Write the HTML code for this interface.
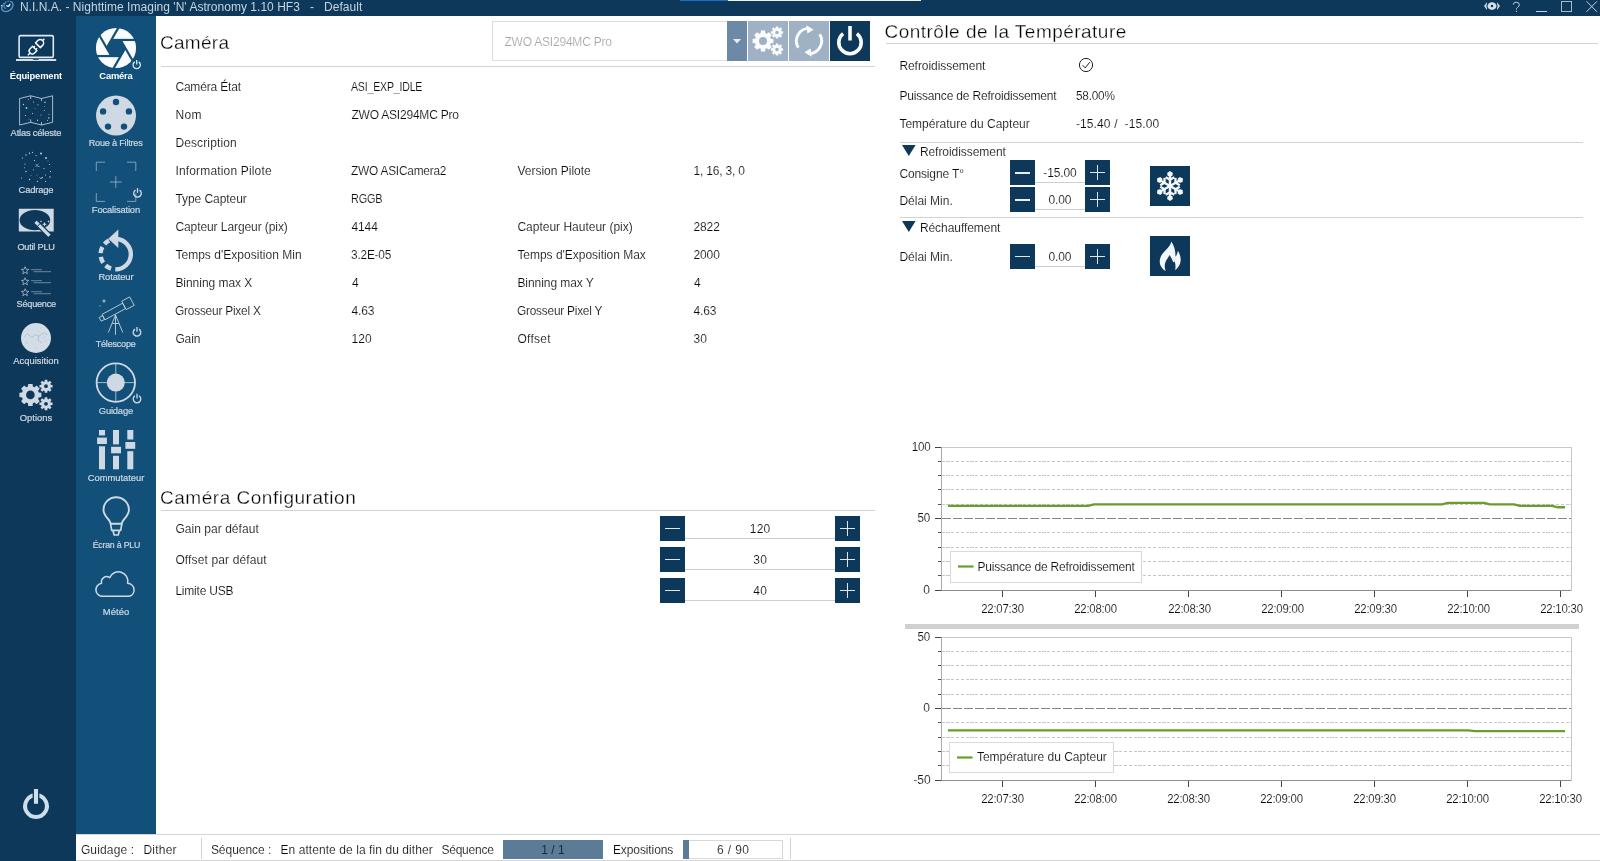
<!DOCTYPE html>
<html><head><meta charset="utf-8"><title>N.I.N.A.</title>
<style>
*{box-sizing:border-box;margin:0;padding:0}
html,body{width:1600px;height:861px;overflow:hidden;background:#fff;font-family:"Liberation Sans",sans-serif;}
#app{will-change:transform;position:relative;width:1600px;height:861px;overflow:hidden;background:#fff;color:#000}
.abs{position:absolute}
.t{position:absolute;white-space:pre;line-height:16px;height:16px;font-size:11.5px;color:#0c0c0c;-webkit-text-stroke:0.14px #fff}
#titlebar{left:0;top:0;width:1600px;height:16px;background:#0d3859}
#side1{left:0;top:16px;width:76px;height:845px;background:#0d3859}
#side2{left:76px;top:16px;width:80px;height:818px;background:#125079}
#status{left:76px;top:834px;width:1524px;height:27px;background:#fff;border-top:1px solid #d4d4d4;border-bottom:1px solid #d4d4d4}
.hl{position:absolute;height:1px;background:#d2d2d2}
.vl{position:absolute;width:1px;background:#d2d2d2}
.btn{position:absolute;background:#0d3859}
.btn i{position:absolute;background:#dfe7ee}
.ul{position:absolute;height:1px;background:#cfcfcf}
svg{position:absolute;overflow:visible}
</style></head><body><div id="app">
<div id="titlebar" class="abs"></div>
<div class="abs" style="left:680px;top:0;width:48px;height:1px;background:#1a6fc4"></div>
<div class="abs" style="left:728px;top:0;width:193px;height:1px;background:#eef2f6"></div>
<div id="side1" class="abs"></div>
<div id="side2" class="abs"></div>
<div id="status" class="abs"></div>
<!-- heading lines -->
<div class="hl" style="left:161px;top:66px;width:714px"></div>
<div class="hl" style="left:886px;top:43px;width:712px"></div>
<div class="hl" style="left:161px;top:510px;width:714px"></div>
<div class="hl" style="left:900px;top:142px;width:683px"></div>
<div class="hl" style="left:900px;top:217px;width:683px"></div>
<!-- combobox -->
<div class="abs" style="left:492px;top:21px;width:236px;height:40px;border:1px solid #dddddd;background:#fff"></div>
<div class="abs" style="left:727px;top:21px;width:20px;height:40px;background:#6c8aa6"></div>
<svg style="left:733px;top:39px" width="8" height="5" viewBox="0 0 8 5"><path d="M0 0H8L4 4.5Z" fill="#e6edf3"/></svg>
<div class="abs" style="left:748px;top:21px;width:40px;height:40px;background:#9fb2c5"></div>
<div class="abs" style="left:789px;top:21px;width:40px;height:40px;background:#9fb2c5"></div>
<div class="abs" style="left:830px;top:21px;width:40px;height:40px;background:#0d3859"></div>
<!-- status bar parts -->
<div class="vl" style="left:201px;top:838px;height:21px"></div>
<div class="vl" style="left:790px;top:838px;height:21px"></div>
<div class="abs" style="left:503px;top:840px;width:100px;height:19px;background:#5b7b97"></div>
<div class="abs" style="left:683px;top:840px;width:100px;height:19px;background:#fff;border:1px solid #d8d8d8"></div>
<div class="abs" style="left:683px;top:840px;width:6px;height:19px;background:#5b7b97"></div>
<!-- splitter -->
<div class="abs" style="left:905px;top:624px;width:674px;height:5px;background:#d0d0d0"></div>

<!-- stepper buttons: camera config -->
<div class="btn" style="left:660px;top:516px;width:25px;height:25px"><i style="left:5px;top:12px;width:15px;height:1px"></i></div>
<div class="btn" style="left:835px;top:516px;width:25px;height:25px"><i style="left:5px;top:12px;width:15px;height:1px"></i><i style="left:12px;top:5px;width:1px;height:15px"></i></div>
<div class="ul" style="left:685px;top:538px;width:150px"></div>
<div class="btn" style="left:660px;top:547px;width:25px;height:25px"><i style="left:5px;top:12px;width:15px;height:1px"></i></div>
<div class="btn" style="left:835px;top:547px;width:25px;height:25px"><i style="left:5px;top:12px;width:15px;height:1px"></i><i style="left:12px;top:5px;width:1px;height:15px"></i></div>
<div class="ul" style="left:685px;top:569px;width:150px"></div>
<div class="btn" style="left:660px;top:578px;width:25px;height:25px"><i style="left:5px;top:12px;width:15px;height:1px"></i></div>
<div class="btn" style="left:835px;top:578px;width:25px;height:25px"><i style="left:5px;top:12px;width:15px;height:1px"></i><i style="left:12px;top:5px;width:1px;height:15px"></i></div>
<div class="ul" style="left:685px;top:600px;width:150px"></div>
<!-- stepper buttons: temperature -->
<div class="btn" style="left:1010px;top:160px;width:25px;height:25px"><i style="left:5px;top:12px;width:15px;height:2px;background:#e9eff4"></i></div>
<div class="btn" style="left:1085px;top:160px;width:25px;height:25px"><i style="left:5px;top:12px;width:15px;height:1px"></i><i style="left:12px;top:5px;width:1px;height:15px"></i></div>
<div class="ul" style="left:1035px;top:182px;width:50px"></div>
<div class="btn" style="left:1010px;top:187px;width:25px;height:25px"><i style="left:5px;top:12px;width:15px;height:2px;background:#e9eff4"></i></div>
<div class="btn" style="left:1085px;top:187px;width:25px;height:25px"><i style="left:5px;top:12px;width:15px;height:1px"></i><i style="left:12px;top:5px;width:1px;height:15px"></i></div>
<div class="ul" style="left:1035px;top:209px;width:50px"></div>
<div class="btn" style="left:1010px;top:244px;width:25px;height:25px"><i style="left:5px;top:12px;width:15px;height:1px"></i></div>
<div class="btn" style="left:1085px;top:244px;width:25px;height:25px"><i style="left:5px;top:12px;width:15px;height:1px"></i><i style="left:12px;top:5px;width:1px;height:15px"></i></div>
<div class="ul" style="left:1035px;top:266px;width:50px"></div>
<!-- snow / flame buttons -->
<div class="btn" style="left:1150px;top:166px;width:40px;height:40px"></div>
<div class="btn" style="left:1150px;top:236px;width:40px;height:40px"></div>
<!-- expander triangles -->
<svg style="left:902.2px;top:145px" width="13.6" height="11" viewBox="0 0 13.6 11"><path d="M0 0H13.6L6.8 11Z" fill="#0d3859"/></svg>
<svg style="left:902.2px;top:220.8px" width="13.6" height="11" viewBox="0 0 13.6 11"><path d="M0 0H13.6L6.8 11Z" fill="#0d3859"/></svg>

<svg style="left:0;top:0" width="1600" height="861" viewBox="0 0 1600 861"><ellipse cx="7.4" cy="6.4" rx="6.2" ry="4.5" fill="none" stroke="#5f94ce" stroke-width="1.3" transform="rotate(-38 7.4 6.4)" stroke-dasharray="22 1.2 1.2 1.2 1.2 1.2 1.2 1.2"/><path d="M5.6 2.6 Q2.8 4.8 4.2 7.6 Q5 8.6 6.2 8.2" fill="none" stroke="#7eb0e4" stroke-width="1" opacity="0.85"/><path d="M6.8 5.6 Q8.4 7.6 9.9 4.4" fill="none" stroke="#eef6ff" stroke-width="1.3" stroke-linecap="round"/><circle cx="1.6" cy="5.6" r="0.7" fill="#d8ecff"/><path d="M1487 2.3 L1484 6.1 L1487 9.9Z M1497 2.3 L1500 6.1 L1497 9.9Z" fill="#cfdbe6"/><ellipse cx="1492" cy="6.1" rx="5.6" ry="4.8" fill="#0d3859"/><ellipse cx="1492" cy="6.1" rx="4.5" ry="3.8" fill="#d5e0ea"/><circle cx="1492" cy="6.1" r="1.25" fill="#0d3859"/><path d="M1513.3 4.6 Q1513.4 2.2 1516.3 2.2 Q1519.3 2.3 1519.3 4.7 Q1519.3 6.3 1517.6 7.3 Q1516.4 8.1 1516.4 9.6" fill="none" stroke="#c3d0dc" stroke-width="1"/><rect x="1515.9" y="10.8" width="1" height="1.2" fill="#c3d0dc"/><rect x="1536" y="11" width="11" height="1" fill="#c8d4df"/><rect x="1561.5" y="1.5" width="10" height="10" fill="none" stroke="#a9bccd" stroke-width="1"/><path d="M1586.5 1.3 L1597 11.8 M1597 1.3 L1586.5 11.8" stroke="#c8d4df" stroke-width="1" fill="none"/></svg>
<svg style="left:0;top:0" width="1600" height="861" viewBox="0 0 1600 861"><rect x="19.1" y="35.6" width="34.2" height="21.8" rx="1.4" fill="none" stroke="#dfeaf3" stroke-width="1.6"/><rect x="16" y="59" width="40.2" height="2" fill="#d5dee7"/><rect x="33" y="59" width="5.6" height="0.8" fill="#0d3859"/><g stroke="#f3f7fa" fill="none" stroke-width="1.5" stroke-linejoin="round" transform="translate(32.6 50.6) rotate(-45)"><path d="M3 -3.1 L-0.4 -3.1 A3.1 3.1 0 0 0 -0.4 3.1 L3 3.1 Z"/><path d="M3 -1.5 H4.9 M3 1.5 H4.9" stroke-width="1.3"/><path d="M-3.5 0 H-6.6"/></g><g stroke="#f3f7fa" fill="none" stroke-width="1.5" stroke-linejoin="round" transform="translate(40 43.2) rotate(-45)"><path d="M-2.9 -3.4 L0.3 -3.4 A3.4 3.4 0 0 1 0.3 3.4 L-2.9 3.4 Z"/><path d="M3.7 0 H6.2"/></g><path d="M19.6 98.5 L30.7 95.8 L41.5 98.5 L52.6 95.8 L52.6 122.3 L41.5 125 L30.7 122.3 L19.6 125Z" fill="none" stroke="#cfd9e3" stroke-width="1" stroke-linejoin="round" opacity="0.8"/><path d="M30.7 95.8 V99 M41.5 98.5 V101 M30.7 119.5 V122.3 M41.5 122 V125" stroke="#cfd9e3" stroke-width="1" opacity="0.8"/><circle cx="23.5" cy="104.5" r="0.7" fill="#cfd9e3" opacity="0.9"/><circle cx="26.5" cy="108" r="0.9" fill="#cfd9e3" opacity="0.9"/><circle cx="28.3" cy="99.5" r="0.5" fill="#cfd9e3" opacity="0.9"/><circle cx="33.5" cy="102" r="0.6" fill="#cfd9e3" opacity="0.9"/><circle cx="38" cy="104.8" r="0.6" fill="#cfd9e3" opacity="0.9"/><circle cx="45" cy="102.3" r="0.8" fill="#cfd9e3" opacity="0.9"/><circle cx="48.8" cy="118" r="0.8" fill="#cfd9e3" opacity="0.9"/><circle cx="44.3" cy="110.5" r="0.5" fill="#cfd9e3" opacity="0.9"/><circle cx="32.5" cy="113.5" r="0.6" fill="#cfd9e3" opacity="0.9"/><circle cx="25.5" cy="115.5" r="0.6" fill="#cfd9e3" opacity="0.9"/><circle cx="37.5" cy="120.3" r="0.7" fill="#cfd9e3" opacity="0.9"/><circle cx="49" cy="114.2" r="0.5" fill="#cfd9e3" opacity="0.9"/><circle cx="41" cy="115" r="0.5" fill="#cfd9e3" opacity="0.9"/><circle cx="35" cy="108.5" r="0.4" fill="#cfd9e3" opacity="0.9"/><circle cx="44.5" cy="106.5" r="0.4" fill="#cfd9e3" opacity="0.9"/><circle cx="29" cy="119.5" r="0.4" fill="#cfd9e3" opacity="0.9"/><circle cx="47.5" cy="120.5" r="0.5" fill="#cfd9e3" opacity="0.9"/><circle cx="22.5" cy="158" r="0.6" fill="#cfd9e3" opacity="1"/><circle cx="26" cy="155" r="0.65" fill="#cfd9e3" opacity="1"/><circle cx="29.5" cy="153.3" r="0.7" fill="#cfd9e3" opacity="1"/><circle cx="32.5" cy="152.3" r="0.6" fill="#cfd9e3" opacity="1"/><circle cx="36" cy="155.5" r="0.6" fill="#cfd9e3" opacity="1"/><circle cx="41" cy="153.5" r="0.9" fill="#cfd9e3" opacity="1"/><circle cx="46" cy="158" r="0.9" fill="#cfd9e3" opacity="1"/><circle cx="34.5" cy="160.5" r="0.6" fill="#cfd9e3" opacity="1"/><circle cx="25" cy="164" r="0.6" fill="#cfd9e3" opacity="1"/><circle cx="24.3" cy="167.8" r="0.5" fill="#cfd9e3" opacity="1"/><circle cx="26" cy="171.5" r="0.7" fill="#cfd9e3" opacity="1"/><circle cx="21.5" cy="178" r="0.5" fill="#cfd9e3" opacity="1"/><circle cx="29.5" cy="179.5" r="0.7" fill="#cfd9e3" opacity="1"/><circle cx="37.5" cy="181.3" r="0.6" fill="#cfd9e3" opacity="1"/><circle cx="42" cy="177.5" r="0.6" fill="#cfd9e3" opacity="1"/><circle cx="45.5" cy="181.5" r="0.6" fill="#cfd9e3" opacity="1"/><circle cx="50" cy="177" r="0.7" fill="#cfd9e3" opacity="1"/><circle cx="50.5" cy="171.5" r="0.6" fill="#cfd9e3" opacity="1"/><circle cx="49.5" cy="164.5" r="0.6" fill="#cfd9e3" opacity="1"/><circle cx="44" cy="168.5" r="0.6" fill="#cfd9e3" opacity="1"/><circle cx="39" cy="166.5" r="0.5" fill="#cfd9e3" opacity="1"/><circle cx="33.5" cy="169.8" r="0.5" fill="#cfd9e3" opacity="1"/><circle cx="45.5" cy="175" r="0.5" fill="#cfd9e3" opacity="1"/><circle cx="31" cy="175.5" r="0.4" fill="#cfd9e3" opacity="1"/><circle cx="37" cy="175" r="0.4" fill="#cfd9e3" opacity="1"/><circle cx="48" cy="161" r="0.4" fill="#cfd9e3" opacity="1"/><path d="M35.5 163.8 L38.5 167 M38.5 163.8 L35.5 167 M39.5 177.2 L41 179 L43 177" stroke="#cfd9e3" stroke-width="0.7" fill="none" opacity="0.8"/><path d="M18.8 208.8 H53.7 V231.4 H18.8Z M50.2 220.2 A15.3 10.1 0 1 0 19.6 220.2 A15.3 10.1 0 1 0 50.2 220.2Z" fill="#cfd9e3" fill-rule="evenodd"/><path d="M33.6 222.9 L36.7 219.8 L51.4 234.6 L48.3 237.7Z" fill="#cfd9e3" stroke="#0d3859" stroke-width="1.1"/><path d="M37.2 226.5 L40.3 223.4" stroke="#0d3859" stroke-width="1"/><path d="M44.5 222 l.7 1.6 l1.6 .7 l-1.6 .7 l-.7 1.6 l-.7 -1.6 l-1.6 -.7 l1.6 -.7Z M48.5 220 l.4 1 l1 .4 l-1 .4 l-.4 1 l-.4 -1 l-1 -.4 l1 -.4Z M41 220.3 l.35 .8 l.8 .35 l-.8 .35 l-.35 .8 l-.35 -.8 l-.8 -.35 l.8 -.35Z" fill="#cfd9e3"/><path d="M25.10 266.70 L26.10 269.22 L28.81 269.39 L26.72 271.13 L27.39 273.76 L25.10 272.30 L22.81 273.76 L23.48 271.13 L21.39 269.39 L24.10 269.22Z" fill="none" stroke="#cfd9e3" stroke-width="0.8" stroke-linejoin="miter" opacity="0.8"/><path d="M31 269.70000000000005 H42 M33.5 271.70000000000005 H51" stroke="#cfd9e3" stroke-width="0.7" opacity="0.7"/><path d="M25.10 277.70 L26.10 280.22 L28.81 280.39 L26.72 282.13 L27.39 284.76 L25.10 283.30 L22.81 284.76 L23.48 282.13 L21.39 280.39 L24.10 280.22Z" fill="none" stroke="#cfd9e3" stroke-width="0.8" stroke-linejoin="miter" opacity="0.8"/><path d="M31 280.70000000000005 H42 M33.5 282.70000000000005 H51" stroke="#cfd9e3" stroke-width="0.7" opacity="0.7"/><path d="M25.10 288.70 L26.10 291.22 L28.81 291.39 L26.72 293.13 L27.39 295.76 L25.10 294.30 L22.81 295.76 L23.48 293.13 L21.39 291.39 L24.10 291.22Z" fill="none" stroke="#cfd9e3" stroke-width="0.8" stroke-linejoin="miter" opacity="0.8"/><path d="M31 291.70000000000005 H42 M33.5 293.70000000000005 H51" stroke="#cfd9e3" stroke-width="0.7" opacity="0.7"/><circle cx="36" cy="338" r="15" fill="#d3dde7"/><path d="M24.5 337 L27.5 333.5 L31.5 337.5 L35 334.8 L39 336 L43.5 333 L47.5 334.5 M39 336 L38 340 L42 343" fill="none" stroke="#9fb0c2" stroke-width="0.6"/><circle cx="29" cy="330" r="0.45" fill="#8fa3b8"/><circle cx="33" cy="344" r="0.45" fill="#8fa3b8"/><circle cx="41" cy="328" r="0.45" fill="#8fa3b8"/><circle cx="45" cy="341" r="0.45" fill="#8fa3b8"/><circle cx="36" cy="348" r="0.45" fill="#8fa3b8"/><circle cx="27" cy="343" r="0.45" fill="#8fa3b8"/><circle cx="44" cy="337" r="0.45" fill="#8fa3b8"/><circle cx="38" cy="331" r="0.45" fill="#8fa3b8"/><path d="M38.74 392.41 L41.39 392.73 L41.39 397.07 L38.74 397.39 L38.06 399.03 L39.70 401.14 L36.64 404.20 L34.53 402.56 L32.89 403.24 L32.57 405.89 L28.23 405.89 L27.91 403.24 L26.27 402.56 L24.16 404.20 L21.10 401.14 L22.74 399.03 L22.06 397.39 L19.41 397.07 L19.41 392.73 L22.06 392.41 L22.74 390.77 L21.10 388.66 L24.16 385.60 L26.27 387.24 L27.91 386.56 L28.23 383.91 L32.57 383.91 L32.89 386.56 L34.53 387.24 L36.64 385.60 L39.70 388.66 L38.06 390.77Z M34.70 394.90 A4.3 4.3 0 1 0 26.10 394.90 A4.3 4.3 0 1 0 34.70 394.90Z" fill="#cfd9e3" fill-rule="evenodd"/><path d="M50.69 384.80 L52.57 384.90 L52.57 387.50 L50.69 387.60 L50.31 388.53 L51.56 389.93 L49.73 391.76 L48.33 390.51 L47.40 390.89 L47.30 392.77 L44.70 392.77 L44.60 390.89 L43.67 390.51 L42.27 391.76 L40.44 389.93 L41.69 388.53 L41.31 387.60 L39.43 387.50 L39.43 384.90 L41.31 384.80 L41.69 383.87 L40.44 382.47 L42.27 380.64 L43.67 381.89 L44.60 381.51 L44.70 379.63 L47.30 379.63 L47.40 381.51 L48.33 381.89 L49.73 380.64 L51.56 382.47 L50.31 383.87Z M47.90 386.20 A1.9 1.9 0 1 0 44.10 386.20 A1.9 1.9 0 1 0 47.90 386.20Z" fill="#cfd9e3" fill-rule="evenodd"/><path d="M50.69 402.40 L52.57 402.50 L52.57 405.10 L50.69 405.20 L50.31 406.13 L51.56 407.53 L49.73 409.36 L48.33 408.11 L47.40 408.49 L47.30 410.37 L44.70 410.37 L44.60 408.49 L43.67 408.11 L42.27 409.36 L40.44 407.53 L41.69 406.13 L41.31 405.20 L39.43 405.10 L39.43 402.50 L41.31 402.40 L41.69 401.47 L40.44 400.07 L42.27 398.24 L43.67 399.49 L44.60 399.11 L44.70 397.23 L47.30 397.23 L47.40 399.11 L48.33 399.49 L49.73 398.24 L51.56 400.07 L50.31 401.47Z M47.90 403.80 A1.9 1.9 0 1 0 44.10 403.80 A1.9 1.9 0 1 0 47.90 403.80Z" fill="#cfd9e3" fill-rule="evenodd"/><path d="M36.76 795.23 A10.9 10.9 0 1 1 35.24 795.23" fill="none" stroke="#cfdeeb" stroke-width="4.0" stroke-linecap="butt"/><line x1="36" y1="791.06" x2="36" y2="804.79" stroke="#cfdeeb" stroke-width="4.0"/><line x1="36" y1="788" x2="36" y2="805.2" stroke="#0d3859" stroke-width="6.8"/><line x1="36" y1="789" x2="36" y2="803.8" stroke="#cfdeeb" stroke-width="4.1"/></svg>
<svg style="left:0;top:0" width="1600" height="861" viewBox="0 0 1600 861"><circle cx="116" cy="48" r="20.1" fill="#fafcfd"/><polygon points="125.30,48.00 120.65,39.95 111.35,39.95 106.70,48.00 111.35,56.05 120.65,56.05" fill="#125079"/><line x1="120.65" y1="39.95" x2="132.68" y2="60.79" stroke="#125079" stroke-width="2.2"/><line x1="111.35" y1="39.95" x2="135.42" y2="39.95" stroke="#125079" stroke-width="2.2"/><line x1="106.70" y1="48.00" x2="118.73" y2="27.16" stroke="#125079" stroke-width="2.2"/><line x1="111.35" y1="56.05" x2="99.32" y2="35.21" stroke="#125079" stroke-width="2.2"/><line x1="120.65" y1="56.05" x2="96.58" y2="56.05" stroke="#125079" stroke-width="2.2"/><line x1="125.30" y1="48.00" x2="113.27" y2="68.84" stroke="#125079" stroke-width="2.2"/><circle cx="136.7" cy="64.6" r="5.7" fill="#125079"/><path d="M138.66 61.86 A3.7 3.7 0 1 1 134.74 61.86" fill="none" stroke="#dbe9f5" stroke-width="1.3" stroke-linecap="butt"/><line x1="136.7" y1="59.89" x2="136.7" y2="64.56" stroke="#dbe9f5" stroke-width="1.3"/><circle cx="116" cy="115.6" r="20" fill="#cfd9e3"/><circle cx="116.00" cy="102.00" r="3.2" fill="#125079"/><circle cx="103.07" cy="111.40" r="3.2" fill="#125079"/><circle cx="108.01" cy="126.60" r="3.2" fill="#125079"/><circle cx="123.99" cy="126.60" r="3.2" fill="#125079"/><circle cx="128.93" cy="111.40" r="3.2" fill="#125079"/><path d="M96.3 171 V162.2 H105 M127 162.2 H135.8 V171 M135.8 193 V201.4 H127 M105 201.4 H96.3 V193" fill="none" stroke="#9fb8cc" stroke-width="0.75"/><path d="M110 182 H121.6 M115.8 176.2 V187.8" stroke="#9fb8cc" stroke-width="0.8"/><path d="M139.51 190.08 A3.8 3.8 0 1 1 135.49 190.08" fill="none" stroke="#cfd9e3" stroke-width="1.3" stroke-linecap="butt"/><line x1="137.5" y1="188.06" x2="137.5" y2="192.84" stroke="#cfd9e3" stroke-width="1.3"/><path d="M116.33 239.01 A15.2 15.2 0 0 1 115.27 269.39" fill="none" stroke="#cfd9e3" stroke-width="4.4"/><path d="M111.10 268.66 A15.2 15.2 0 0 1 105.63 265.50" fill="none" stroke="#cfd9e3" stroke-width="4.4"/><path d="M103.20 262.70 A15.2 15.2 0 0 1 100.83 256.84" fill="none" stroke="#cfd9e3" stroke-width="4.4"/><path d="M100.64 253.14 A15.2 15.2 0 0 1 102.38 247.06" fill="none" stroke="#cfd9e3" stroke-width="4.4"/><path d="M104.50 244.03 A15.2 15.2 0 0 1 109.14 240.54" fill="none" stroke="#cfd9e3" stroke-width="4.4"/><path d="M118.3 229.6 V248 L108.3 238.8Z" fill="#cfd9e3"/><g fill="none" stroke="#c5d2de" stroke-width="0.9" stroke-linejoin="round"><path d="M99.2 317.5 L101.2 321.2 L104.5 319.4 L102.5 315.7Z"/><path d="M102 314.4 L104.9 319.8 L125.5 308.6 L122.6 303.2Z"/><path d="M121.7 301.2 L126.2 309.6 L134.2 305.3 L129.7 296.9Z"/><path d="M115.5 315 L108.3 332.5 M115.5 315 L122.8 332.5 M115.5 314.5 V334.8 M112.3 323.5 H118.8"/></g><path d="M104 298.6 l.6 1.8 l1.8 .6 l-1.8 .6 l-.6 1.8 l-.6 -1.8 l-1.8 -.6 l1.8 -.6Z" fill="#c5d2de"/><circle cx="100" cy="305.8" r="0.6" fill="#c5d2de"/><path d="M139.01 329.08 A3.8 3.8 0 1 1 134.99 329.08" fill="none" stroke="#cfd9e3" stroke-width="1.3" stroke-linecap="butt"/><line x1="137" y1="327.06" x2="137" y2="331.84" stroke="#cfd9e3" stroke-width="1.3"/><circle cx="115.8" cy="382.6" r="19.2" fill="none" stroke="#cfd9e3" stroke-width="1.8"/><circle cx="115.8" cy="382.6" r="9" fill="#cfd9e3"/><path d="M96.5 382.6 H135.1 M115.8 363.3 V401.9" stroke="#cfd9e3" stroke-width="1" opacity="0.75"/><circle cx="137" cy="398.8" r="5.6" fill="#125079"/><path d="M139.01 395.78 A3.8 3.8 0 1 1 134.99 395.78" fill="none" stroke="#cfd9e3" stroke-width="1.3" stroke-linecap="butt"/><line x1="137" y1="393.76" x2="137" y2="398.54" stroke="#cfd9e3" stroke-width="1.3"/><rect x="99" y="430" width="6" height="5.4" fill="#cfd9e3"/><rect x="97.1" y="437.6" width="9.8" height="6.4" fill="#cfd9e3"/><rect x="99" y="446.3" width="6" height="23" fill="#cfd9e3"/><rect x="113" y="430" width="6" height="14.4" fill="#cfd9e3"/><rect x="111.1" y="446.8" width="9.9" height="6.5" fill="#cfd9e3"/><rect x="113" y="455.8" width="6" height="13.5" fill="#cfd9e3"/><rect x="127.3" y="430" width="6" height="9.5" fill="#cfd9e3"/><rect x="125.4" y="442" width="9.8" height="6.8" fill="#cfd9e3"/><rect x="127.3" y="451.2" width="6" height="18.1" fill="#cfd9e3"/><path d="M110.6 523.8 C110.6 519.3 103.5 516.6 103.5 509.9 A12.7 12.7 0 0 1 128.9 509.9 C128.9 516.6 121.8 519.3 121.8 523.8 Z" fill="none" stroke="#cfd9e3" stroke-width="1.9" stroke-linejoin="round"/><path d="M110.6 523.8 L111.7 530.4 H120.7 L121.8 523.8 M112.9 530.4 L114.2 535 H118.2 L119.5 530.4" fill="none" stroke="#cfd9e3" stroke-width="1.7" stroke-linejoin="round"/><path d="M103.2 596.3 A6.6 6.6 0 0 1 101.6 583.2 A5.2 5.2 0 0 1 109.7 577.7 A9.4 9.4 0 0 1 127.6 583.2 A6.7 6.7 0 0 1 129.3 596.3 Z" fill="none" stroke="#cfd9e3" stroke-width="1.5" stroke-linejoin="round"/></svg>
<svg style="left:0;top:0" width="1600" height="861" viewBox="0 0 1600 861"><path d="M770.86 38.65 L773.40 38.95 L773.40 43.05 L770.86 43.35 L770.22 44.89 L771.80 46.90 L768.90 49.80 L766.89 48.22 L765.35 48.86 L765.05 51.40 L760.95 51.40 L760.65 48.86 L759.11 48.22 L757.10 49.80 L754.20 46.90 L755.78 44.89 L755.14 43.35 L752.60 43.05 L752.60 38.95 L755.14 38.65 L755.78 37.11 L754.20 35.10 L757.10 32.20 L759.11 33.78 L760.65 33.14 L760.95 30.60 L765.05 30.60 L765.35 33.14 L766.89 33.78 L768.90 32.20 L771.80 35.10 L770.22 37.11Z M767.00 41.00 A4.0 4.0 0 1 0 759.00 41.00 A4.0 4.0 0 1 0 767.00 41.00Z" fill="#fbfcfd" fill-rule="evenodd"/><path d="M781.41 31.18 L783.08 31.30 L783.08 33.70 L781.41 33.82 L781.05 34.68 L782.15 35.95 L780.45 37.65 L779.18 36.55 L778.32 36.91 L778.20 38.58 L775.80 38.58 L775.68 36.91 L774.82 36.55 L773.55 37.65 L771.85 35.95 L772.95 34.68 L772.59 33.82 L770.92 33.70 L770.92 31.30 L772.59 31.18 L772.95 30.32 L771.85 29.05 L773.55 27.35 L774.82 28.45 L775.68 28.09 L775.80 26.42 L778.20 26.42 L778.32 28.09 L779.18 28.45 L780.45 27.35 L782.15 29.05 L781.05 30.32Z M778.80 32.50 A1.8 1.8 0 1 0 775.20 32.50 A1.8 1.8 0 1 0 778.80 32.50Z" fill="#fbfcfd" fill-rule="evenodd"/><path d="M781.41 48.18 L783.08 48.30 L783.08 50.70 L781.41 50.82 L781.05 51.68 L782.15 52.95 L780.45 54.65 L779.18 53.55 L778.32 53.91 L778.20 55.58 L775.80 55.58 L775.68 53.91 L774.82 53.55 L773.55 54.65 L771.85 52.95 L772.95 51.68 L772.59 50.82 L770.92 50.70 L770.92 48.30 L772.59 48.18 L772.95 47.32 L771.85 46.05 L773.55 44.35 L774.82 45.45 L775.68 45.09 L775.80 43.42 L778.20 43.42 L778.32 45.09 L779.18 45.45 L780.45 44.35 L782.15 46.05 L781.05 47.32Z M778.80 49.50 A1.8 1.8 0 1 0 775.20 49.50 A1.8 1.8 0 1 0 778.80 49.50Z" fill="#fbfcfd" fill-rule="evenodd"/><path d="M798.31 47.68 A12.6 12.6 0 0 1 809.88 28.43" fill="none" stroke="#fbfcfd" stroke-width="2.9"/><path d="M819.69 34.32 A12.6 12.6 0 0 1 808.12 53.57" fill="none" stroke="#fbfcfd" stroke-width="2.9"/><path d="M806.4 25.2 L813.6 29.8 L807.4 33.4Z" fill="#fbfcfd"/><path d="M811.6 56.8 L804.4 52.2 L810.6 48.6Z" fill="#fbfcfd"/><path d="M856.90 33.67 A11.2 11.2 0 1 1 843.10 33.67" fill="none" stroke="#fbfcfd" stroke-width="3.6" stroke-linecap="butt"/><line x1="850" y1="26.00" x2="850" y2="40.50" stroke="#fbfcfd" stroke-width="3.6"/><circle cx="1086" cy="65" r="6.6" fill="none" stroke="#222" stroke-width="1"/><path d="M1082.6 65.2 L1085.2 67.9 L1089.8 62.2" fill="none" stroke="#222" stroke-width="1"/><g stroke="#f3f7fa" stroke-linecap="butt"><line x1="1170" y1="186" x2="1170.00" y2="175.00" stroke-width="2.5"/><path d="M1170.00 171.00 L1172.90 173.10 L1172.30 176.10 L1167.70 176.10 L1167.10 173.10Z" stroke="none" fill="#f3f7fa"/><line x1="1170.00" y1="179.70" x2="1165.67" y2="177.20" stroke-width="2.3"/><line x1="1170.00" y1="179.70" x2="1174.33" y2="177.20" stroke-width="2.3"/><line x1="1170" y1="186" x2="1160.47" y2="180.50" stroke-width="2.5"/><path d="M1157.01 178.50 L1160.28 177.04 L1162.58 179.06 L1160.28 183.04 L1157.38 182.06Z" stroke="none" fill="#f3f7fa"/><line x1="1164.54" y1="182.85" x2="1160.21" y2="185.35" stroke-width="2.3"/><line x1="1164.54" y1="182.85" x2="1164.54" y2="177.85" stroke-width="2.3"/><line x1="1170" y1="186" x2="1160.47" y2="191.50" stroke-width="2.5"/><path d="M1157.01 193.50 L1157.38 189.94 L1160.28 188.96 L1162.58 192.94 L1160.28 194.96Z" stroke="none" fill="#f3f7fa"/><line x1="1164.54" y1="189.15" x2="1164.54" y2="194.15" stroke-width="2.3"/><line x1="1164.54" y1="189.15" x2="1160.21" y2="186.65" stroke-width="2.3"/><line x1="1170" y1="186" x2="1170.00" y2="197.00" stroke-width="2.5"/><path d="M1170.00 201.00 L1167.10 198.90 L1167.70 195.90 L1172.30 195.90 L1172.90 198.90Z" stroke="none" fill="#f3f7fa"/><line x1="1170.00" y1="192.30" x2="1174.33" y2="194.80" stroke-width="2.3"/><line x1="1170.00" y1="192.30" x2="1165.67" y2="194.80" stroke-width="2.3"/><line x1="1170" y1="186" x2="1179.53" y2="191.50" stroke-width="2.5"/><path d="M1182.99 193.50 L1179.72 194.96 L1177.42 192.94 L1179.72 188.96 L1182.62 189.94Z" stroke="none" fill="#f3f7fa"/><line x1="1175.46" y1="189.15" x2="1179.79" y2="186.65" stroke-width="2.3"/><line x1="1175.46" y1="189.15" x2="1175.46" y2="194.15" stroke-width="2.3"/><line x1="1170" y1="186" x2="1179.53" y2="180.50" stroke-width="2.5"/><path d="M1182.99 178.50 L1182.62 182.06 L1179.72 183.04 L1177.42 179.06 L1179.72 177.04Z" stroke="none" fill="#f3f7fa"/><line x1="1175.46" y1="182.85" x2="1175.46" y2="177.85" stroke-width="2.3"/><line x1="1175.46" y1="182.85" x2="1179.79" y2="185.35" stroke-width="2.3"/></g><circle cx="1170" cy="186" r="2.1" fill="#f3f7fa"/><path d="M1171.3 241.4 C1170.5 246.5 1165.5 249.5 1162.3 254 C1159.3 258.2 1158.9 263.2 1161.2 266.8 C1162.3 268.6 1163.8 270.2 1165.6 271.1 C1164.2 267.5 1164.6 263.5 1166.3 260.3 C1167.3 258.4 1168.7 256.8 1169.6 254.9 C1171 257.5 1172.8 259.8 1173.2 262.6 L1174.6 261.2 C1175.6 264 1175.8 267.3 1175.1 270.2 C1178.2 268 1180.4 264.5 1180.7 260.5 C1180.9 256.8 1179.6 253.5 1177.9 250.8 C1177.6 253 1176.8 255 1175.5 256.7 C1175.6 251 1174.3 245.6 1171.3 241.4Z" fill="#f3f7fa"/></svg>

<svg style="left:0;top:0" width="1600" height="861" viewBox="0 0 1600 861" shape-rendering="crispEdges">
<line x1="941.5" y1="447.5" x2="1571.5" y2="447.5" stroke="#c9c9c9" stroke-width="1"/>
<line x1="935.0" y1="447.5" x2="941.5" y2="447.5" stroke="#444" stroke-width="1"/>
<line x1="941.5" y1="461.5" x2="1571.5" y2="461.5" stroke="#c6c6c6" stroke-width="1" stroke-dasharray="3.2 1.6"/>
<line x1="938.0" y1="461.5" x2="941.5" y2="461.5" stroke="#555" stroke-width="1"/>
<line x1="941.5" y1="475.5" x2="1571.5" y2="475.5" stroke="#c6c6c6" stroke-width="1" stroke-dasharray="3.2 1.6"/>
<line x1="938.0" y1="475.5" x2="941.5" y2="475.5" stroke="#555" stroke-width="1"/>
<line x1="941.5" y1="489.5" x2="1571.5" y2="489.5" stroke="#c6c6c6" stroke-width="1" stroke-dasharray="3.2 1.6"/>
<line x1="938.0" y1="489.5" x2="941.5" y2="489.5" stroke="#555" stroke-width="1"/>
<line x1="941.5" y1="504.5" x2="1571.5" y2="504.5" stroke="#c6c6c6" stroke-width="1" stroke-dasharray="3.2 1.6"/>
<line x1="938.0" y1="504.5" x2="941.5" y2="504.5" stroke="#555" stroke-width="1"/>
<line x1="941.5" y1="518.5" x2="1571.5" y2="518.5" stroke="#858585" stroke-width="1" stroke-dasharray="9.5 1.5"/>
<line x1="935.0" y1="518.5" x2="941.5" y2="518.5" stroke="#444" stroke-width="1"/>
<line x1="941.5" y1="532.5" x2="1571.5" y2="532.5" stroke="#c6c6c6" stroke-width="1" stroke-dasharray="3.2 1.6"/>
<line x1="938.0" y1="532.5" x2="941.5" y2="532.5" stroke="#555" stroke-width="1"/>
<line x1="941.5" y1="547.5" x2="1571.5" y2="547.5" stroke="#c6c6c6" stroke-width="1" stroke-dasharray="3.2 1.6"/>
<line x1="938.0" y1="547.5" x2="941.5" y2="547.5" stroke="#555" stroke-width="1"/>
<line x1="941.5" y1="561.5" x2="1571.5" y2="561.5" stroke="#c6c6c6" stroke-width="1" stroke-dasharray="3.2 1.6"/>
<line x1="938.0" y1="561.5" x2="941.5" y2="561.5" stroke="#555" stroke-width="1"/>
<line x1="941.5" y1="575.5" x2="1571.5" y2="575.5" stroke="#c6c6c6" stroke-width="1" stroke-dasharray="3.2 1.6"/>
<line x1="938.0" y1="575.5" x2="941.5" y2="575.5" stroke="#555" stroke-width="1"/>
<line x1="935.0" y1="590.5" x2="941.5" y2="590.5" stroke="#444" stroke-width="1"/>
<line x1="941.5" y1="447" x2="941.5" y2="591.0" stroke="#a9a9a9" stroke-width="1"/>
<line x1="941.0" y1="590.5" x2="1572.0" y2="590.5" stroke="#8c8c8c" stroke-width="1"/>
<line x1="1571.5" y1="447" x2="1571.5" y2="590.5" stroke="#c9c9c9" stroke-width="1"/>
<line x1="1002.5" y1="590.5" x2="1002.5" y2="597.0" stroke="#444" stroke-width="1"/>
<line x1="1095.5" y1="590.5" x2="1095.5" y2="597.0" stroke="#444" stroke-width="1"/>
<line x1="1188.5" y1="590.5" x2="1188.5" y2="597.0" stroke="#444" stroke-width="1"/>
<line x1="1281.5" y1="590.5" x2="1281.5" y2="597.0" stroke="#444" stroke-width="1"/>
<line x1="1374.5" y1="590.5" x2="1374.5" y2="597.0" stroke="#444" stroke-width="1"/>
<line x1="1467.5" y1="590.5" x2="1467.5" y2="597.0" stroke="#444" stroke-width="1"/>
<line x1="1560.5" y1="590.5" x2="1560.5" y2="597.0" stroke="#444" stroke-width="1"/>
</svg>
<svg style="left:0;top:0" width="1600" height="861" viewBox="0 0 1600 861">
<polyline points="948,505.83500000000004 1088,505.83500000000004 1094,504.4 1442,504.4 1448,502.96500000000003 1484,502.96500000000003 1490,504.4 1514,504.4 1520,505.83500000000004 1552,505.83500000000004 1558,507.27 1565,507.27" fill="none" stroke="#679e2c" stroke-width="2.3" stroke-linejoin="round"/>
<rect x="950.5" y="551.5" width="191" height="31" fill="#fff" stroke="#d9d9d9" stroke-width="1"/>
<line x1="958" y1="566.5" x2="973.5" y2="566.5" stroke="#679e2c" stroke-width="2.2"/>
</svg>
<svg style="left:0;top:0" width="1600" height="861" viewBox="0 0 1600 861" shape-rendering="crispEdges">
<line x1="941.5" y1="637.5" x2="1571.5" y2="637.5" stroke="#c9c9c9" stroke-width="1"/>
<line x1="935.0" y1="637.5" x2="941.5" y2="637.5" stroke="#444" stroke-width="1"/>
<line x1="941.5" y1="651.5" x2="1571.5" y2="651.5" stroke="#c6c6c6" stroke-width="1" stroke-dasharray="3.2 1.6"/>
<line x1="938.0" y1="651.5" x2="941.5" y2="651.5" stroke="#555" stroke-width="1"/>
<line x1="941.5" y1="665.5" x2="1571.5" y2="665.5" stroke="#c6c6c6" stroke-width="1" stroke-dasharray="3.2 1.6"/>
<line x1="938.0" y1="665.5" x2="941.5" y2="665.5" stroke="#555" stroke-width="1"/>
<line x1="941.5" y1="679.5" x2="1571.5" y2="679.5" stroke="#c6c6c6" stroke-width="1" stroke-dasharray="3.2 1.6"/>
<line x1="938.0" y1="679.5" x2="941.5" y2="679.5" stroke="#555" stroke-width="1"/>
<line x1="941.5" y1="694.5" x2="1571.5" y2="694.5" stroke="#c6c6c6" stroke-width="1" stroke-dasharray="3.2 1.6"/>
<line x1="938.0" y1="694.5" x2="941.5" y2="694.5" stroke="#555" stroke-width="1"/>
<line x1="941.5" y1="708.5" x2="1571.5" y2="708.5" stroke="#858585" stroke-width="1" stroke-dasharray="9.5 1.5"/>
<line x1="935.0" y1="708.5" x2="941.5" y2="708.5" stroke="#444" stroke-width="1"/>
<line x1="941.5" y1="722.5" x2="1571.5" y2="722.5" stroke="#c6c6c6" stroke-width="1" stroke-dasharray="3.2 1.6"/>
<line x1="938.0" y1="722.5" x2="941.5" y2="722.5" stroke="#555" stroke-width="1"/>
<line x1="941.5" y1="737.5" x2="1571.5" y2="737.5" stroke="#c6c6c6" stroke-width="1" stroke-dasharray="3.2 1.6"/>
<line x1="938.0" y1="737.5" x2="941.5" y2="737.5" stroke="#555" stroke-width="1"/>
<line x1="941.5" y1="751.5" x2="1571.5" y2="751.5" stroke="#c6c6c6" stroke-width="1" stroke-dasharray="3.2 1.6"/>
<line x1="938.0" y1="751.5" x2="941.5" y2="751.5" stroke="#555" stroke-width="1"/>
<line x1="941.5" y1="765.5" x2="1571.5" y2="765.5" stroke="#c6c6c6" stroke-width="1" stroke-dasharray="3.2 1.6"/>
<line x1="938.0" y1="765.5" x2="941.5" y2="765.5" stroke="#555" stroke-width="1"/>
<line x1="935.0" y1="780.5" x2="941.5" y2="780.5" stroke="#444" stroke-width="1"/>
<line x1="941.5" y1="637" x2="941.5" y2="781.0" stroke="#a9a9a9" stroke-width="1"/>
<line x1="941.0" y1="780.5" x2="1572.0" y2="780.5" stroke="#8c8c8c" stroke-width="1"/>
<line x1="1571.5" y1="637" x2="1571.5" y2="780.5" stroke="#c9c9c9" stroke-width="1"/>
<line x1="1002.5" y1="780.5" x2="1002.5" y2="787.0" stroke="#444" stroke-width="1"/>
<line x1="1095.5" y1="780.5" x2="1095.5" y2="787.0" stroke="#444" stroke-width="1"/>
<line x1="1188.5" y1="780.5" x2="1188.5" y2="787.0" stroke="#444" stroke-width="1"/>
<line x1="1281.5" y1="780.5" x2="1281.5" y2="787.0" stroke="#444" stroke-width="1"/>
<line x1="1374.5" y1="780.5" x2="1374.5" y2="787.0" stroke="#444" stroke-width="1"/>
<line x1="1467.5" y1="780.5" x2="1467.5" y2="787.0" stroke="#444" stroke-width="1"/>
<line x1="1560.5" y1="780.5" x2="1560.5" y2="787.0" stroke="#444" stroke-width="1"/>
</svg>
<svg style="left:0;top:0" width="1600" height="861" viewBox="0 0 1600 861">
<polyline points="948,730.275 1468,730.275 1475,731.136 1565,731.136" fill="none" stroke="#679e2c" stroke-width="2.3" stroke-linejoin="round"/>
<rect x="949.5" y="742.5" width="164" height="30" fill="#fff" stroke="#d9d9d9" stroke-width="1"/>
<line x1="957" y1="757.5" x2="972.5" y2="757.5" stroke="#679e2c" stroke-width="2.2"/>
</svg>

<span class="t" style="left:19.90px;top:-1.00px;font-size:12px;letter-spacing:0.026px;color:#c4d4e2;-webkit-text-stroke:0;">N.I.N.A. - Nighttime Imaging 'N' Astronomy 1.10 HF3   -   Default</span>
<span class="t" style="left:9.87px;top:67.50px;font-size:9.4px;letter-spacing:-0.156px;color:#fff;font-weight:bold;-webkit-text-stroke:0;">Équipement</span>
<span class="t" style="left:10.60px;top:124.50px;font-size:9.4px;letter-spacing:-0.197px;color:#cdd9e4;-webkit-text-stroke:0.2px #cdd9e4;">Atlas céleste</span>
<span class="t" style="left:18.60px;top:181.50px;font-size:9.4px;letter-spacing:-0.196px;color:#cdd9e4;-webkit-text-stroke:0.2px #cdd9e4;">Cadrage</span>
<span class="t" style="left:16.82px;top:238.50px;font-size:9.4px;letter-spacing:-0.220px;transform:scaleX(0.9800);transform-origin:19.18px 50%;color:#cdd9e4;-webkit-text-stroke:0.2px #cdd9e4;">Outil PLU</span>
<span class="t" style="left:15.65px;top:295.50px;font-size:9.4px;letter-spacing:-0.220px;transform:scaleX(0.9730);transform-origin:20.35px 50%;color:#cdd9e4;-webkit-text-stroke:0.2px #cdd9e4;">Séquence</span>
<span class="t" style="left:13.21px;top:352.50px;font-size:9.4px;letter-spacing:0.023px;color:#cdd9e4;-webkit-text-stroke:0.2px #cdd9e4;">Acquisition</span>
<span class="t" style="left:19.72px;top:409.50px;font-size:9.4px;letter-spacing:0.041px;color:#cdd9e4;-webkit-text-stroke:0.2px #cdd9e4;">Options</span>
<span class="t" style="left:99.34px;top:67.50px;font-size:9.4px;letter-spacing:-0.218px;color:#fff;font-weight:bold;-webkit-text-stroke:0;">Caméra</span>
<span class="t" style="left:88.25px;top:134.50px;font-size:9.4px;letter-spacing:-0.220px;transform:scaleX(0.9747);transform-origin:27.75px 50%;color:#cdd9e4;-webkit-text-stroke:0.2px #cdd9e4;">Roue à Filtres</span>
<span class="t" style="left:91.87px;top:201.50px;font-size:9.4px;letter-spacing:-0.161px;color:#cdd9e4;-webkit-text-stroke:0.2px #cdd9e4;">Focalisation</span>
<span class="t" style="left:98.40px;top:268.50px;font-size:9.4px;letter-spacing:-0.109px;color:#cdd9e4;-webkit-text-stroke:0.2px #cdd9e4;">Rotateur</span>
<span class="t" style="left:95.25px;top:335.50px;font-size:9.4px;letter-spacing:-0.220px;transform:scaleX(0.9661);transform-origin:20.75px 50%;color:#cdd9e4;-webkit-text-stroke:0.2px #cdd9e4;">Télescope</span>
<span class="t" style="left:98.85px;top:402.50px;font-size:9.4px;letter-spacing:-0.194px;color:#cdd9e4;-webkit-text-stroke:0.2px #cdd9e4;">Guidage</span>
<span class="t" style="left:87.69px;top:469.50px;font-size:9.4px;letter-spacing:-0.018px;color:#cdd9e4;-webkit-text-stroke:0.2px #cdd9e4;">Commutateur</span>
<span class="t" style="left:90.52px;top:536.50px;font-size:9.4px;letter-spacing:-0.220px;transform:scaleX(0.9341);transform-origin:25.48px 50%;color:#cdd9e4;-webkit-text-stroke:0.2px #cdd9e4;">Écran à PLU</span>
<span class="t" style="left:102.76px;top:603.50px;font-size:9.4px;letter-spacing:0.107px;color:#cdd9e4;-webkit-text-stroke:0.2px #cdd9e4;">Météo</span>
<span class="t" style="left:160.05px;top:35.00px;font-size:19px;letter-spacing:0.270px;-webkit-text-stroke:0.3px #fff;color:#000;line-height:24px;height:24px;margin-top:-4px;">Caméra</span>
<span class="t" style="left:884.55px;top:24.00px;font-size:19px;letter-spacing:0.473px;-webkit-text-stroke:0.3px #fff;color:#000;line-height:24px;height:24px;margin-top:-4px;">Contrôle de la Température</span>
<span class="t" style="left:160.05px;top:490.00px;font-size:19px;letter-spacing:0.516px;-webkit-text-stroke:0.3px #fff;color:#000;line-height:24px;height:24px;margin-top:-4px;">Caméra Configuration</span>
<span class="t" style="left:504.40px;top:34.00px;font-size:12px;letter-spacing:-0.206px;color:#a6a6a6;">ZWO ASI294MC Pro</span>
<span class="t" style="left:175.40px;top:78.50px;font-size:12px;letter-spacing:-0.178px;">Caméra État</span>
<span class="t" style="left:351.40px;top:78.50px;font-size:12px;letter-spacing:-0.220px;transform:scaleX(0.8818);transform-origin:0 50%;">ASI_EXP_IDLE</span>
<span class="t" style="left:175.40px;top:106.50px;font-size:12px;letter-spacing:0.352px;">Nom</span>
<span class="t" style="left:351.40px;top:106.50px;font-size:12px;letter-spacing:-0.206px;">ZWO ASI294MC Pro</span>
<span class="t" style="left:175.40px;top:134.50px;font-size:12px;letter-spacing:0.124px;">Description</span>
<span class="t" style="left:175.40px;top:162.50px;font-size:12px;letter-spacing:0.167px;">Information Pilote</span>
<span class="t" style="left:351.40px;top:162.50px;font-size:12px;letter-spacing:-0.220px;transform:scaleX(0.9886);transform-origin:0 50%;">ZWO ASICamera2</span>
<span class="t" style="left:517.40px;top:162.50px;font-size:12px;">Version Pilote</span>
<span class="t" style="left:693.40px;top:162.50px;font-size:12px;letter-spacing:-0.180px;">1, 16, 3, 0</span>
<span class="t" style="left:175.40px;top:190.50px;font-size:12px;letter-spacing:-0.054px;">Type Capteur</span>
<span class="t" style="left:351.40px;top:190.50px;font-size:12px;letter-spacing:-0.220px;transform:scaleX(0.9053);transform-origin:0 50%;">RGGB</span>
<span class="t" style="left:175.40px;top:218.50px;font-size:12px;letter-spacing:-0.079px;">Capteur Largeur (pix)</span>
<span class="t" style="left:351.40px;top:218.50px;font-size:12px;letter-spacing:-0.076px;">4144</span>
<span class="t" style="left:517.40px;top:218.50px;font-size:12px;">Capteur Hauteur (pix)</span>
<span class="t" style="left:693.40px;top:218.50px;font-size:12px;letter-spacing:-0.076px;">2822</span>
<span class="t" style="left:175.40px;top:246.50px;font-size:12px;letter-spacing:0.032px;">Temps d'Exposition Min</span>
<span class="t" style="left:351.40px;top:246.50px;font-size:12px;letter-spacing:-0.220px;transform:scaleX(0.9924);transform-origin:0 50%;">3.2E-05</span>
<span class="t" style="left:517.40px;top:246.50px;font-size:12px;letter-spacing:-0.028px;">Temps d'Exposition Max</span>
<span class="t" style="left:693.40px;top:246.50px;font-size:12px;letter-spacing:-0.076px;">2000</span>
<span class="t" style="left:175.40px;top:274.50px;font-size:12px;letter-spacing:-0.037px;">Binning max X</span>
<span class="t" style="left:352.00px;top:274.50px;font-size:12px;">4</span>
<span class="t" style="left:517.40px;top:274.50px;font-size:12px;letter-spacing:-0.058px;">Binning max Y</span>
<span class="t" style="left:694.00px;top:274.50px;font-size:12px;">4</span>
<span class="t" style="left:175.40px;top:302.50px;font-size:12px;letter-spacing:-0.220px;transform:scaleX(0.9904);transform-origin:0 50%;">Grosseur Pixel X</span>
<span class="t" style="left:351.40px;top:302.50px;font-size:12px;letter-spacing:-0.115px;">4.63</span>
<span class="t" style="left:517.40px;top:302.50px;font-size:12px;letter-spacing:-0.220px;transform:scaleX(0.9871);transform-origin:0 50%;">Grosseur Pixel Y</span>
<span class="t" style="left:693.40px;top:302.50px;font-size:12px;letter-spacing:-0.115px;">4.63</span>
<span class="t" style="left:175.40px;top:330.50px;font-size:12px;letter-spacing:-0.115px;">Gain</span>
<span class="t" style="left:351.40px;top:330.50px;font-size:12px;letter-spacing:0.123px;">120</span>
<span class="t" style="left:517.40px;top:330.50px;font-size:12px;letter-spacing:0.267px;">Offset</span>
<span class="t" style="left:693.40px;top:330.50px;font-size:12px;letter-spacing:0.270px;">30</span>
<span class="t" style="left:175.40px;top:520.50px;font-size:12px;letter-spacing:0.044px;">Gain par défaut</span>
<span class="t" style="left:749.86px;top:520.50px;font-size:12px;letter-spacing:0.123px;">120</span>
<span class="t" style="left:175.40px;top:551.50px;font-size:12px;letter-spacing:0.131px;">Offset par défaut</span>
<span class="t" style="left:753.19px;top:551.50px;font-size:12px;letter-spacing:0.270px;">30</span>
<span class="t" style="left:175.40px;top:582.50px;font-size:12px;letter-spacing:-0.213px;">Limite USB</span>
<span class="t" style="left:753.19px;top:582.50px;font-size:12px;letter-spacing:0.270px;">40</span>
<span class="t" style="left:899.40px;top:57.50px;font-size:12px;letter-spacing:-0.054px;">Refroidissement</span>
<span class="t" style="left:899.40px;top:87.50px;font-size:12px;letter-spacing:-0.178px;">Puissance de Refroidissement</span>
<span class="t" style="left:1075.90px;top:87.50px;font-size:12px;letter-spacing:-0.220px;transform:scaleX(0.9822);transform-origin:0 50%;">58.00%</span>
<span class="t" style="left:899.40px;top:115.50px;font-size:12px;letter-spacing:0.015px;">Température du Capteur</span>
<span class="t" style="left:1075.90px;top:115.50px;font-size:12px;letter-spacing:0.126px;">-15.40 /  -15.00</span>
<span class="t" style="left:919.90px;top:143.50px;font-size:12px;letter-spacing:-0.054px;">Refroidissement</span>
<span class="t" style="left:899.40px;top:165.50px;font-size:12px;letter-spacing:-0.141px;">Consigne T°</span>
<span class="t" style="left:1043.25px;top:164.50px;font-size:12px;letter-spacing:-0.105px;">-15.00</span>
<span class="t" style="left:899.40px;top:192.50px;font-size:12px;">Délai Min.</span>
<span class="t" style="left:1048.49px;top:191.50px;font-size:12px;letter-spacing:-0.115px;">0.00</span>
<span class="t" style="left:919.90px;top:219.50px;font-size:12px;letter-spacing:-0.059px;">Réchauffement</span>
<span class="t" style="left:899.40px;top:248.50px;font-size:12px;">Délai Min.</span>
<span class="t" style="left:1048.49px;top:248.50px;font-size:12px;letter-spacing:-0.115px;">0.00</span>
<span class="t" style="left:911.01px;top:438.50px;font-size:12px;letter-spacing:-0.220px;transform:scaleX(0.9647);transform-origin:19.59px 50%;">100</span>
<span class="t" style="left:917.46px;top:510.00px;font-size:12px;letter-spacing:-0.220px;transform:scaleX(0.9666);transform-origin:13.14px 50%;">50</span>
<span class="t" style="left:923.31px;top:581.50px;font-size:12px;">0</span>
<span class="t" style="left:917.46px;top:628.50px;font-size:12px;letter-spacing:-0.220px;transform:scaleX(0.9666);transform-origin:13.14px 50%;">50</span>
<span class="t" style="left:923.31px;top:700.00px;font-size:12px;">0</span>
<span class="t" style="left:913.49px;top:771.50px;font-size:12px;letter-spacing:-0.115px;">-50</span>
<span class="t" style="left:980.41px;top:600.50px;font-size:12px;letter-spacing:-0.220px;transform:scaleX(0.9496);transform-origin:22.59px 50%;">22:07:30</span>
<span class="t" style="left:980.11px;top:790.50px;font-size:12px;letter-spacing:-0.220px;transform:scaleX(0.9496);transform-origin:22.59px 50%;">22:07:30</span>
<span class="t" style="left:1073.46px;top:600.50px;font-size:12px;letter-spacing:-0.220px;transform:scaleX(0.9496);transform-origin:22.59px 50%;">22:08:00</span>
<span class="t" style="left:1073.16px;top:790.50px;font-size:12px;letter-spacing:-0.220px;transform:scaleX(0.9496);transform-origin:22.59px 50%;">22:08:00</span>
<span class="t" style="left:1166.51px;top:600.50px;font-size:12px;letter-spacing:-0.220px;transform:scaleX(0.9496);transform-origin:22.59px 50%;">22:08:30</span>
<span class="t" style="left:1166.21px;top:790.50px;font-size:12px;letter-spacing:-0.220px;transform:scaleX(0.9496);transform-origin:22.59px 50%;">22:08:30</span>
<span class="t" style="left:1259.56px;top:600.50px;font-size:12px;letter-spacing:-0.220px;transform:scaleX(0.9496);transform-origin:22.59px 50%;">22:09:00</span>
<span class="t" style="left:1259.26px;top:790.50px;font-size:12px;letter-spacing:-0.220px;transform:scaleX(0.9496);transform-origin:22.59px 50%;">22:09:00</span>
<span class="t" style="left:1352.61px;top:600.50px;font-size:12px;letter-spacing:-0.220px;transform:scaleX(0.9496);transform-origin:22.59px 50%;">22:09:30</span>
<span class="t" style="left:1352.31px;top:790.50px;font-size:12px;letter-spacing:-0.220px;transform:scaleX(0.9496);transform-origin:22.59px 50%;">22:09:30</span>
<span class="t" style="left:1445.66px;top:600.50px;font-size:12px;letter-spacing:-0.220px;transform:scaleX(0.9496);transform-origin:22.59px 50%;">22:10:00</span>
<span class="t" style="left:1445.36px;top:790.50px;font-size:12px;letter-spacing:-0.220px;transform:scaleX(0.9496);transform-origin:22.59px 50%;">22:10:00</span>
<span class="t" style="left:1538.71px;top:600.50px;font-size:12px;letter-spacing:-0.220px;transform:scaleX(0.9496);transform-origin:22.59px 50%;">22:10:30</span>
<span class="t" style="left:1538.41px;top:790.50px;font-size:12px;letter-spacing:-0.220px;transform:scaleX(0.9496);transform-origin:22.59px 50%;">22:10:30</span>
<span class="t" style="left:977.40px;top:558.50px;font-size:12px;letter-spacing:-0.168px;">Puissance de Refroidissement</span>
<span class="t" style="left:976.90px;top:749.00px;font-size:12px;letter-spacing:-0.008px;">Température du Capteur</span>
<span class="t" style="left:80.90px;top:841.50px;font-size:12px;letter-spacing:0.150px;">Guidage :</span>
<span class="t" style="left:143.40px;top:841.50px;font-size:12px;letter-spacing:0.231px;">Dither</span>
<span class="t" style="left:210.90px;top:841.50px;font-size:12px;letter-spacing:-0.032px;">Séquence :</span>
<span class="t" style="left:280.40px;top:841.50px;font-size:12px;letter-spacing:0.076px;">En attente de la fin du dither</span>
<span class="t" style="left:441.40px;top:841.50px;font-size:12px;letter-spacing:-0.206px;">Séquence</span>
<span class="t" style="left:541.30px;top:841.50px;font-size:12px;letter-spacing:0.008px;color:#1b2a38;-webkit-text-stroke:0;">1 / 1</span>
<span class="t" style="left:612.90px;top:841.50px;font-size:12px;letter-spacing:-0.089px;">Expositions</span>
<span class="t" style="left:717.00px;top:841.50px;font-size:12px;letter-spacing:0.395px;">6 / 90</span>
</div></body></html>
